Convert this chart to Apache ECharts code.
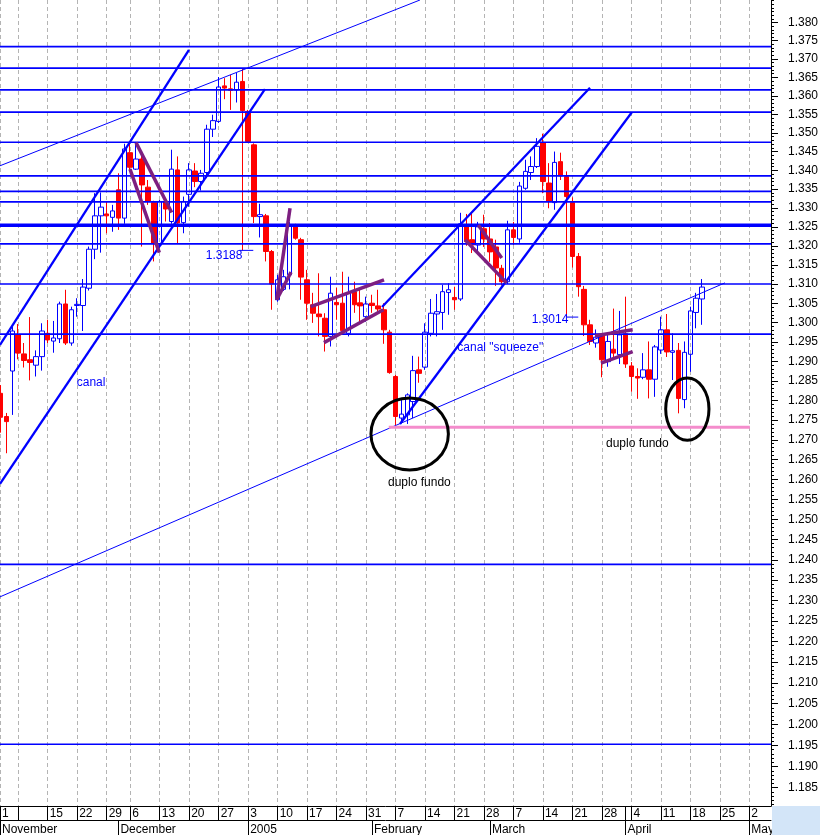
<!DOCTYPE html>
<html><head><meta charset="utf-8">
<script src="https://cdn.jsdelivr.net/npm/echarts@6/dist/echarts.min.js"></script>
<style>html,body{margin:0;padding:0;background:#fff}#c{width:820px;height:835px}</style>
</head><body><div id="c"></div>
<script>
// ---------- data ----------
const dates = [
'2004-11-03','2004-11-04','2004-11-05','2004-11-08','2004-11-09','2004-11-10','2004-11-11','2004-11-12','2004-11-15','2004-11-16',
'2004-11-17','2004-11-18','2004-11-19','2004-11-22','2004-11-23','2004-11-24','2004-11-25','2004-11-26','2004-11-29','2004-11-30',
'2004-12-01','2004-12-02','2004-12-06','2004-12-07','2004-12-08','2004-12-09','2004-12-10','2004-12-13','2004-12-14','2004-12-15',
'2004-12-16','2004-12-17','2004-12-20','2004-12-21','2004-12-22','2004-12-23','2004-12-24','2004-12-27','2004-12-28','2004-12-29',
'2004-12-30','2004-12-31','2005-01-03','2005-01-04','2005-01-05','2005-01-06','2005-01-07','2005-01-10','2005-01-11','2005-01-12',
'2005-01-13','2005-01-14','2005-01-17','2005-01-18','2005-01-19','2005-01-20','2005-01-21','2005-01-24','2005-01-25','2005-01-26',
'2005-01-27','2005-01-28','2005-01-31','2005-02-01','2005-02-02','2005-02-03','2005-02-04','2005-02-07','2005-02-08','2005-02-09',
'2005-02-10','2005-02-11','2005-02-14','2005-02-15','2005-02-16','2005-02-17','2005-02-18','2005-02-21','2005-02-22','2005-02-23',
'2005-02-24','2005-02-25','2005-02-28','2005-03-01','2005-03-02','2005-03-03','2005-03-04','2005-03-07','2005-03-08','2005-03-09',
'2005-03-10','2005-03-11','2005-03-14','2005-03-15','2005-03-16','2005-03-17','2005-03-18','2005-03-21','2005-03-22','2005-03-23',
'2005-03-24','2005-03-25','2005-03-28','2005-03-29','2005-03-30','2005-03-31','2005-04-01','2005-04-04','2005-04-05','2005-04-06',
'2005-04-07','2005-04-08','2005-04-11','2005-04-12','2005-04-13','2005-04-14','2005-04-15','2005-04-18','2005-04-19','2005-04-20'];
const open = [
1.2818,1.2759,1.2875,1.2969,1.2919,1.2904,1.2890,1.2912,1.2972,1.2952,
1.2958,1.3048,1.2947,1.3044,1.3044,1.3089,1.3191,1.3279,1.3284,1.3275,
1.3348,1.3273,1.3447,1.3403,1.3430,1.3355,1.3314,1.3202,1.3317,1.3264,
1.3401,1.3261,1.3336,1.3398,1.3370,1.3394,1.3510,1.3531,1.3627,1.3619,
1.3616,1.3639,1.3558,1.3468,1.3277,1.3279,1.3185,1.3059,1.3086,1.3124,
1.3253,1.3216,1.3111,1.3046,1.3022,1.3011,1.2964,1.3052,1.3050,1.2972,
1.3080,1.3051,1.3015,1.3050,1.3043,1.3033,1.2975,1.2861,1.2755,1.2763,
1.2797,1.2878,1.2885,1.2972,1.3022,1.3026,1.3078,1.3065,1.3061,1.3255,
1.3216,1.3202,1.3245,1.3218,1.3197,1.3141,1.3106,1.3242,1.3218,1.3352,
1.3394,1.3410,1.3473,1.3366,1.3314,1.3423,1.3383,1.3314,1.3172,1.3086,
1.2994,1.2947,1.2967,1.2899,1.2931,1.2917,1.2971,1.2888,1.2861,1.2859,
1.2878,1.2854,1.2929,1.2981,1.2923,1.2928,1.2802,1.2918,1.3026,1.3061];
const close = [
1.2757,1.2746,1.2978,1.2921,1.2902,1.2897,1.2912,1.2978,1.2955,1.2960,
1.3048,1.2947,1.3033,1.3047,1.3092,1.3191,1.3279,1.3302,1.3279,1.3292,
1.3273,1.3457,1.3408,1.3430,1.3361,1.3317,1.3207,1.3317,1.3297,1.3403,
1.3260,1.3317,1.3401,1.3370,1.3392,1.3510,1.3533,1.3624,1.3621,1.3615,
1.3637,1.3560,1.3477,1.3277,1.3282,1.3185,1.3100,1.3111,1.3119,1.3251,
1.3220,1.3118,1.3050,1.3024,1.3015,1.2964,1.3076,1.3046,1.2979,1.3076,
1.3046,1.3043,1.3048,1.3044,1.3035,1.2981,1.2871,1.2759,1.2765,1.2814,
1.2876,1.2869,1.2975,1.3024,1.3028,1.3080,1.3085,1.3059,1.3258,1.3211,
1.3202,1.3250,1.3218,1.3184,1.3142,1.3106,1.3242,1.3222,1.3358,1.3397,
1.3410,1.3464,1.3370,1.3317,1.3421,1.3385,1.3330,1.3172,1.3093,1.2994,
1.2951,1.2962,1.2904,1.2951,1.2921,1.2968,1.2893,1.2861,1.2857,1.2878,
1.2854,1.2937,1.2981,1.2924,1.2927,1.2805,1.2923,1.3030,1.3063,1.3092];
const high = [
1.2839,1.2768,1.2989,1.2996,1.2947,1.3014,1.2928,1.2998,1.3007,1.3004,
1.3054,1.3085,1.3041,1.3063,1.3113,1.3198,1.3339,1.3341,1.3317,1.3308,
1.3392,1.3471,1.3473,1.3474,1.3441,1.3374,1.3319,1.3321,1.3321,1.3455,
1.3437,1.3330,1.3419,1.3419,1.3401,1.3522,1.3549,1.3651,1.3648,1.3657,
1.3662,1.3675,1.3562,1.3472,1.3311,1.3284,1.3189,1.3124,1.3137,1.3263,
1.3258,1.3221,1.3137,1.3077,1.3128,1.3024,1.3119,1.3090,1.3132,1.3119,
1.3106,1.3085,1.3067,1.3072,1.3085,1.3050,1.2981,1.2865,1.2805,1.2818,
1.2914,1.2912,1.2998,1.3061,1.3074,1.3098,1.3102,1.3093,1.3287,1.3284,
1.3289,1.3263,1.3282,1.3260,1.3216,1.3150,1.3266,1.3263,1.3369,1.3428,
1.3437,1.3486,1.3498,1.3419,1.3450,1.3447,1.3397,1.3328,1.3181,1.3095,
1.3007,1.2982,1.2972,1.2973,1.3036,1.3030,1.3067,1.2898,1.2882,1.2921,
1.2951,1.2942,1.3015,1.3022,1.2972,1.2947,1.2951,1.3041,1.3077,1.3113];
const low = [
1.2718,1.2666,1.2763,1.2905,1.2884,1.2851,1.2861,1.2876,1.2947,1.2922,
1.2947,1.2942,1.2940,1.3015,1.2978,1.3083,1.3165,1.3182,1.3233,1.3237,
1.3242,1.3258,1.3401,1.3401,1.3198,1.3308,1.3159,1.3194,1.3264,1.3258,
1.3207,1.3233,1.3303,1.3355,1.3346,1.3379,1.3489,1.3527,1.3591,1.3562,
1.3582,1.3188,1.3473,1.3260,1.3222,1.3159,1.3033,1.3054,1.3082,1.3086,
1.3216,1.3059,1.3007,1.2999,1.2964,1.2925,1.2938,1.3007,1.2968,1.2964,
1.3025,1.2998,1.3002,1.3025,1.3028,1.2945,1.2868,1.2733,1.2742,1.2740,
1.2755,1.2845,1.2878,1.2964,1.2964,1.2981,1.3020,1.3033,1.3056,1.3200,
1.3181,1.3184,1.3197,1.3158,1.3095,1.3096,1.3100,1.3202,1.3208,1.3348,
1.3374,1.3406,1.3339,1.3299,1.3295,1.3374,1.3014,1.3143,1.3067,1.2965,
1.2942,1.2935,1.2859,1.2886,1.2909,1.2893,1.2883,1.2822,1.2804,1.2854,
1.2805,1.2809,1.2919,1.2911,1.2852,1.2767,1.2780,1.2873,1.2985,1.2994];

// horizontal support / resistance levels
const levels = [1.3734,1.3675,1.3616,1.3556,1.3475,1.3385,1.3344,1.3316,1.3205,1.3100,1.2970,1.2389,1.1953];
const strongLevels = [1.3254];

// axis tick labels
const priceLabels = ['1.185','1.190','1.195','1.200','1.205','1.210','1.215','1.220','1.225','1.230','1.235','1.240','1.245','1.250','1.255','1.260','1.265','1.270','1.275','1.280','1.285','1.290','1.295','1.300','1.305','1.310','1.315','1.320','1.325','1.330','1.335','1.340','1.345','1.350','1.355','1.360','1.365','1.370','1.375','1.380'];
const weekStarts = ['2004-11-01','2004-11-08','2004-11-15','2004-11-22','2004-11-29','2004-12-06','2004-12-13','2004-12-20','2004-12-27','2005-01-03','2005-01-10','2005-01-17','2005-01-24','2005-01-31','2005-02-07','2005-02-14','2005-02-21','2005-02-28','2005-03-07','2005-03-14','2005-03-21','2005-03-28','2005-04-01','2005-04-04','2005-04-11','2005-04-18','2005-04-25','2005-05-02'];
const weekLabels = ['1','','15','22','29','6','13','20','27','3','10','17','24','31','7','14','21','28','7','14','21','28','','4','11','18','25','2'];
const monthStarts = ['2004-11-01','2004-12-01','2005-01-03','2005-02-01','2005-03-01','2005-04-01','2005-05-02'];
const monthLabels = ['November','December','2005','February','March','April','May'];
const holidays = ['2004-12-03'];

// drawn analysis lines: [trading-day index (Nov 1 2004 = 0), price]
const channelLines = [
  [[1.91,1.2942],[33.96,1.3725]],
  [[1.91,1.2589],[46.85,1.3618]],
  [[66.7,1.3040],[101.98,1.3622]],
  [[69.75,1.2740],[109.05,1.3555]]
];
const thinLines = [
  [[1.91,1.3412],[73.14,1.3862]],
  [[1.91,1.2309],[124.87,1.3103]]
];
const patternLines = [
  [[24.98,1.3474],[31.03,1.3288]],
  [[23.96,1.3403],[28.93,1.3182]],
  [[48.84,1.3059],[51.10,1.3299]],
  [[48.84,1.3059],[51.27,1.3131]],
  [[54.61,1.3041],[67.04,1.3111]],
  [[56.86,1.2948],[66.92,1.3033]],
  [[80.78,1.3216],[87.85,1.3103]],
  [[83.03,1.3255],[87.00,1.3168]],
  [[102.83,1.2966],[109.22,1.2981]],
  [[103.84,1.2895],[109.22,1.2925]]
];
const doubleBottomLine = [[67.85,1.2732],[129.1,1.2732]];
const lowMarks = [[[42.5,1.3188],[44.87,1.3188]],[[98.03,1.3014],[99.99,1.3014]]];
const circles = [[64.83,77.96,1.2624,1.2806],[114.82,122.16,1.2699,1.2857]];
const notes = [
  [14.92,1.2845,'canal'],
  [36.8,1.3174,'1.3188'],
  [92.09,1.3008,'1.3014'],
  [79.47,1.2934,'canal "squeeze"'],
  [67.72,1.2591,'duplo fundo'],
  [104.69,1.2691,'duplo fundo']
];

// ---------- build ----------
const FONT = '"Liberation Sans", Arial, sans-serif';
const BLUE = '#0000ff';
const Y = p => Math.log(p);
function parseD(s){const a=s.split('-').map(Number);return Date.UTC(a[0],a[1]-1,a[2]);}
const hol = new Set(holidays);
const calendar = [];
for (let t = parseD('2004-11-01'); t <= parseD('2005-05-20'); t += 86400000) {
  const d = new Date(t), wd = d.getUTCDay();
  const s = d.toISOString().slice(0,10);
  if (wd > 0 && wd < 6 && !hol.has(s)) calendar.push(s);
}
const dayIdx = s => calendar.indexOf(s);
const xMin = 1.91, xMax = 132.68;
const yMin = Y(1.1807), yMax = Y(1.3862);
const clampX = v => Math.max(xMin, v);

const weekVals = weekStarts.map(d => clampX(dayIdx(d)));
const weekMap = new Map(weekVals.map((v,i)=>[v.toFixed(3), weekLabels[i]]));
const monthVals = monthStarts.map(d => clampX(dayIdx(d)));
const monthMap = new Map(monthVals.map((v,i)=>[v.toFixed(3), monthLabels[i]]));
const mondayVals = weekStarts.filter(d => new Date(parseD(d)).getUTCDay() === 1).map(d => clampX(dayIdx(d)));
const majorVals = priceLabels.map(s => Y(parseFloat(s)));
const minorVals = [];
for (let k = 1181; k <= 1386; k++) minorVals.push(Y(k/1000));

const candleData = dates.map((d,i)=>[dayIdx(d), Y(open[i]), Y(close[i]), Y(low[i]), Y(high[i])]);

const series = [{
  type:'candlestick', data:candleData, barWidth:5, z:2, silent:true,
  itemStyle:{color:'rgba(255,255,255,0)', color0:'#ff0000', borderColor:BLUE, borderColor0:'#ff0000', borderWidth:1}
}];
function seg(pts, color, width, z){
  series.push({type:'line', data:pts.map(p=>[p[0], Y(p[1])]), symbol:'none', silent:true, z:z,
    lineStyle:{color:color, width:width}, animation:false});
}
levels.forEach(p => seg([[xMin,p],[xMax,p]], BLUE, 1.7, 3));
strongLevels.forEach(p => seg([[xMin,p],[xMax,p]], BLUE, 3.5, 3));
channelLines.forEach(l => seg(l, BLUE, 2.3, 4));
thinLines.forEach(l => seg(l, BLUE, 1, 4));
lowMarks.forEach(l => seg(l, BLUE, 1, 4));
seg(doubleBottomLine, '#f48ccc', 3, 4);
patternLines.forEach(l => seg(l, '#7d1f80', 3.5, 5));

series.push({
  type:'custom', z:6, silent:true, clip:false,
  data: circles.map(c=>[c[0], c[1], Y(c[2]), Y(c[3])]),
  encode:{x:[0,1], y:[2,3]},
  renderItem:(params, api)=>{
    const a = api.coord([api.value(0), api.value(2)]);
    const b = api.coord([api.value(1), api.value(3)]);
    return {type:'ellipse', shape:{cx:(a[0]+b[0])/2, cy:(a[1]+b[1])/2, rx:Math.abs(b[0]-a[0])/2, ry:Math.abs(b[1]-a[1])/2},
      style:{fill:'none', stroke:'#000', lineWidth:3}};
  }
});
series.push({
  type:'custom', z:7, silent:true, clip:false,
  data: notes.map(n=>[n[0], Y(n[1])]),
  renderItem:(params, api)=>{
    const n = notes[params.dataIndex];
    const p = api.coord([api.value(0), api.value(1)]);
    return {type:'text', x:p[0], y:p[1], style:{text:n[2], fill: n[2].indexOf('duplo')===0 ? '#000' : BLUE,
      font:'12px ' + FONT, align:'left', verticalAlign:'middle'}};
  }
});

const chart = echarts.init(document.getElementById('c'), null, {renderer:'canvas'});
chart.setOption({
  animation:false,
  backgroundColor:'#fff',
  grid:{left:0, right:49, top:0, bottom:29, containLabel:false, outerBoundsMode:'none'},
  xAxis:[
    {type:'value', min:xMin, max:xMax, position:'bottom',
     axisLine:{show:true, onZero:false, lineStyle:{color:'#000', width:1}},
     axisTick:{show:true, length:14, customValues:weekVals, lineStyle:{color:'#000', width:1}},
     axisLabel:{customValues:weekVals, formatter:v=>weekMap.get(v.toFixed(3)) || '', align:'left', padding:[0,0,0,2],
       margin:2, color:'#000', fontSize:12, fontFamily:FONT, lineHeight:12},
     splitLine:{show:false}},
    {type:'value', min:xMin, max:xMax, position:'bottom', offset:14,
     axisLine:{show:true, onZero:false, lineStyle:{color:'#000', width:1}},
     axisTick:{show:true, length:15, customValues:monthVals, lineStyle:{color:'#000', width:1}},
     axisLabel:{customValues:monthVals, formatter:v=>monthMap.get(v.toFixed(3)) || '', align:'left', padding:[0,0,0,2],
       margin:4, color:'#000', fontSize:12, fontFamily:FONT, lineHeight:12},
     splitLine:{show:false}},
    {type:'value', min:xMin, max:xMax, position:'top',
     axisLine:{show:false}, axisTick:{show:false, customValues:mondayVals}, axisLabel:{show:false},
     splitLine:{show:true, lineStyle:{color:'#b4b4b4', width:1, type:[4,3]}}}
  ],
  yAxis:[
    {type:'value', min:yMin, max:yMax, position:'right',
     axisLine:{show:true, onZero:false, lineStyle:{color:'#000', width:1}},
     axisTick:{show:true, length:7, customValues:majorVals, lineStyle:{color:'#000', width:1}},
     axisLabel:{customValues:majorVals, formatter:v=>Math.exp(v).toFixed(3), margin:17, color:'#000', fontSize:12, fontFamily:FONT},
     splitLine:{show:false}},
    {type:'value', min:yMin, max:yMax, position:'right',
     axisLine:{show:false},
     axisTick:{show:true, length:3, customValues:minorVals, lineStyle:{color:'#000', width:1}},
     axisLabel:{show:false}, splitLine:{show:false}}
  ],
  graphic:[{type:'rect', z:100, shape:{x:772, y:806, width:48, height:29}, style:{fill:'#d3e5f8'}}],
  series:series
});
</script>
</body></html>
